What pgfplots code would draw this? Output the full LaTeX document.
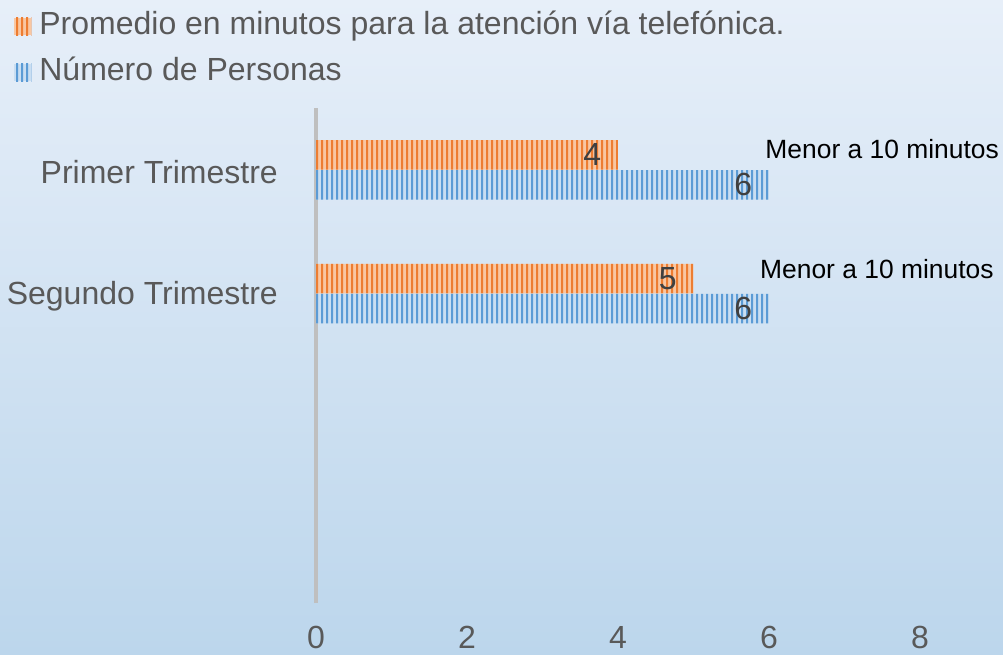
\documentclass[border=0pt]{standalone}
\usepackage{fontspec}
\setmainfont{Liberation Sans}
\usepackage{pgfplots}
\pgfplotsset{compat=1.18}
\usetikzlibrary{patterns.meta}
\definecolor{txt}{HTML}{595959}
\definecolor{lbl}{HTML}{404040}
\definecolor{bgtop}{HTML}{E7EFF9}
\definecolor{bgbot}{HTML}{BCD6EC}
\definecolor{ordark}{HTML}{ED7D31}
\definecolor{orlight}{HTML}{F9C7A2}
\definecolor{bldark}{HTML}{5B9BD5}
\definecolor{bllight}{HTML}{C9DEF2}
\definecolor{axgray}{HTML}{BFBFBF}
\tikzdeclarepattern{
  name=vstripes,
  type=uncolored,
  bottom left={(0pt,0pt)},
  top right={(3.75pt,3.75pt)},
  tile size={(3.75pt,3.75pt)},
  code={
    \draw[line width=1.7pt] (1.875pt,-1pt) -- (1.875pt,4.75pt);
  }
}
\begin{document}
\begin{tikzpicture}
\shade[top color=bgtop, bottom color=bgbot] (0,0) rectangle (752.25pt,490.5pt);
\useasboundingbox (0,0) rectangle (752.25pt,490.5pt);
\begin{axis}[
  at={(237pt,38.25pt)}, anchor=south west,
  scale only axis, width=453pt, height=371.25pt,
  xmin=0, xmax=8, ymin=-0.5, ymax=3.5,
  xbar, bar width=22pt,
  xtick={0,2,4,6,8},
  ytick={2,3}, yticklabels={Segundo Trimestre, Primer Trimestre},
  major tick length=0pt,
  axis lines*=left,
  x axis line style={draw=none},
  y axis line style={draw=axgray, line width=2.4pt, -},
  clip=false,
  /pgf/number format/assume math mode=true,
  tick label style={font=\fontsize{24}{28}\selectfont, text=txt},
  yticklabel style={inner sep=0pt, xshift=-28.5pt, yshift=-2pt},
  xticklabel style={inner sep=0pt, yshift=-17.5pt},
  legend style={at={(-0.507,1.206)}, anchor=north west, draw=none, fill=none,
    font=\fontsize{24}{28}\selectfont, text=txt, row sep=8pt,
    nodes={inner sep=2pt, text height=17.5pt, text depth=5pt}},
  legend cell align=left,
  legend image code/.code={\fill[#1] (0pt,-6.5pt) rectangle (13pt,6.5pt); \path (17pt,0pt);},
  nodes near coords,
  nodes near coords style={anchor=east, xshift=-9pt, font=\fontsize{24}{28}\selectfont, text=lbl},
]
\addplot[draw=none, fill=orlight, postaction={pattern=vstripes, pattern color=ordark}, bar shift=11.25pt]
  coordinates {(4,3) (5,2)};
\addlegendentry{Promedio en minutos para la atención vía telefónica.}
\addplot[draw=none, fill=bllight, postaction={pattern=vstripes, pattern color=bldark}, bar shift=-11.25pt]
  coordinates {(6,3) (6,2)};
\addlegendentry{Número de Personas}
\node[anchor=west, inner sep=0pt, font=\fontsize{19.8}{23}\selectfont, text=black] at (axis cs:5.95,3.17) {Menor a 10 minutos};
\node[anchor=west, inner sep=0pt, font=\fontsize{19.8}{23}\selectfont, text=black] at (axis cs:5.88,2.2) {Menor a 10 minutos};
\end{axis}
\end{tikzpicture}
\end{document}
